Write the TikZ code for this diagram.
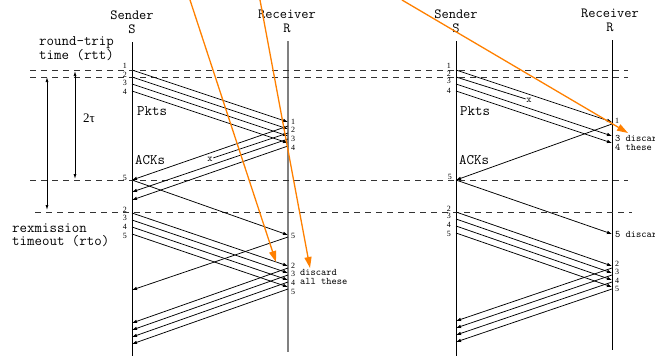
\documentclass[tikz,border=0pt]{standalone}
\usepackage{fontspec}
\setmainfont{Liberation Serif}
\usetikzlibrary{arrows.meta}
\definecolor{hintorange}{RGB}{255,128,0}
\begin{document}
\begin{tikzpicture}[x=1pt,y=-1pt,
  lifeline/.style={line width=0.9pt},
  recvline/.style={line width=1.7pt, black!50},
  msg/.style={line width=0.75pt, -{Latex[length=5pt,width=3.6pt]}},
  lost/.style={line width=0.75pt},
  guide/.style={line width=0.9pt, black!80, dash pattern=on 6pt off 5pt},
  span/.style={line width=0.75pt, {Latex[length=5pt,width=3pt]}-{Latex[length=5pt,width=3pt]}},
  hint/.style={hintorange, line width=1.3pt, -{Triangle[length=11pt,width=7pt]}},
  head/.style={font=\ttfamily\fontsize{14}{14}\selectfont, inner sep=0},
  side/.style={font=\ttfamily\fontsize{14.5}{14.5}\selectfont, inner sep=0, anchor=west},
  num/.style={font=\fontsize{8}{8}\selectfont, inner sep=0},
  lnum/.style={num, anchor=east},
  rnum/.style={num, anchor=west},
  note/.style={font=\ttfamily\fontsize{10}{10}\selectfont, inner sep=0, anchor=west},
  drop/.style={font=\ttfamily\fontsize{10}{10}\selectfont, inner sep=0.5pt},
]
\useasboundingbox (0,0) rectangle (655,356);

% ---------- headers ----------
\node[head] (lsname) at (132,15.5) {Sender};
\node[head] (lsid)   at (132,29.5) {S};
\node[head] (lrname) at (287,14.5) {Receiver};
\node[head] (lrid)   at (287,28.5) {R};
\node[head] (rsname) at (456,14.5) {Sender};
\node[head] (rsid)   at (456,28.5) {S};
\node[head] (rrname) at (610,13.5) {Receiver};
\node[head] (rrid)   at (610,27.5) {R};

% ---------- lifelines ----------
\coordinate (LStop) at (132,42);  \coordinate (LSbot) at (132,356);
\coordinate (LRtop) at (288,41);  \coordinate (LRbot) at (288,352);
\coordinate (RStop) at (456,41);  \coordinate (RSbot) at (456,356);
\coordinate (RRtop) at (612,40);  \coordinate (RRbot) at (612,350);
\draw[lifeline] (LStop) -- (LSbot);
\draw[recvline] (LRtop) -- (LRbot);
\draw[lifeline] (RStop) -- (RSbot);
\draw[lifeline] (RRtop) -- (RRbot);

% ---------- timing guides ----------
\coordinate (g1a) at (30,70);  \coordinate (g1b) at (628,70);
\coordinate (g2a) at (30,77);  \coordinate (g2b) at (628,77);
\coordinate (g3a) at (30,180); \coordinate (g3b) at (628,180);
\coordinate (g4a) at (35,212); \coordinate (g4b) at (632,212);
\draw[guide] (g1a) -- (g1b);
\draw[guide] (g2a) -- (g2b);
\draw[guide] (g3a) -- (g3b);
\draw[guide] (g4a) -- (g4b);

% rtt and rto spans
\coordinate (rttA) at (75,71);  \coordinate (rttB) at (75,179);
\coordinate (rtoA) at (47,77);  \coordinate (rtoB) at (47,210);
\draw[span] (rttA) -- (rttB);
\draw[span] (rtoA) -- (rtoB);
\node[font=\fontsize{13}{13}\selectfont, inner sep=0] (tau) at (89,118) {2τ};

\node[side] (rtt1) at (39,43) {round-trip};
\node[side] (rtt2) at (39,55) {time (rtt)};
\node[side] (rto1) at (12,228) {rexmission};
\node[side] (rto2) at (12,241) {timeout (rto)};

\node[side] (lpk) at (137,111) {Pkts};
\node[side] (lak) at (135,160) {ACKs};
\node[side] (rpk) at (460,111) {Pkts};
\node[side] (rak) at (459,160) {ACKs};

% ================= left exchange =================
\foreach \i/\d/\a in {1/70/122, 2/77/129, 3/84/136, 4/91/143} {
  \coordinate (lp\i s) at (132,\d);
  \coordinate (lp\i r) at (288,\a);
  \draw[msg] (lp\i s) -- (lp\i r);
}
% acknowledgements, the second one is lost
\coordinate (la1r) at (288,126); \coordinate (la1s) at (132,180);
\coordinate (la2r) at (288,133); \node[drop] (lx) at (210,159) {x};
\coordinate (la3r) at (288,139); \coordinate (la3s) at (132,192);
\coordinate (la4r) at (288,146); \coordinate (la4s) at (132,200);
\draw[msg] (la1r) -- (la1s);
\draw[lost] (la2r) -- (lx);
\draw[msg] (la3r) -- (la3s);
\draw[msg] (la4r) -- (la4s);
% packet 5
\coordinate (lp5s) at (132,180); \coordinate (lp5r) at (288,235);
\draw[msg] (lp5s) -- (lp5r);
% retransmissions 2..5
\foreach \i/\d/\a in {2/213/266, 3/220/273, 4/227/280, 5/234/287} {
  \coordinate (lq\i s) at (132,\d);
  \coordinate (lq\i r) at (288,\a);
  \draw[msg] (lq\i s) -- (lq\i r);
}
\coordinate (lb5r) at (288,237); \coordinate (lb5s) at (132,290);
\draw[msg] (lb5r) -- (lb5s);
\foreach \i/\d/\a in {2/268/323, 3/275/330, 4/282/337, 5/289/344} {
  \coordinate (lc\i r) at (288,\d);
  \coordinate (lc\i s) at (132,\a);
  \draw[msg] (lc\i r) -- (lc\i s);
}
% sequence numbers
\node[lnum] (ln1) at (127,66) {1};
\node[lnum] (ln2) at (127,75) {2};
\node[lnum] (ln3) at (127,83) {3};
\node[lnum] (ln4) at (127,92) {4};
\node[lnum] (ln5) at (127,178) {5};
\node[lnum] (lm2) at (127,210) {2};
\node[lnum] (lm3) at (127,218) {3};
\node[lnum] (lm4) at (127,227) {4};
\node[lnum] (lm5) at (127,236) {5};
\node[rnum] (lr1) at (291,122) {1};
\node[rnum] (lr2) at (291,130) {2};
\node[rnum] (lr3) at (291,139) {3};
\node[rnum] (lr4) at (291,148) {4};
\node[rnum] (lr5) at (291,236) {5};
\node[rnum] (lt2) at (291,266) {2};
\node[rnum] (lt3) at (291,274) {3};
\node[rnum] (lt4) at (291,283) {4};
\node[rnum] (lt5) at (291,292) {5};
\node[note] (ld1) at (300,272) {discard};
\node[note] (ld2) at (300,281) {all these};

% ================= right exchange =================
\coordinate (rp1s) at (456,70); \coordinate (rp1r) at (612,122);
\coordinate (rp2s) at (456,77); \node[drop] (rx) at (529,100) {x};
\coordinate (rp3s) at (456,84); \coordinate (rp3r) at (612,136);
\coordinate (rp4s) at (456,91); \coordinate (rp4r) at (612,143);
\draw[msg] (rp1s) -- (rp1r);
\draw[lost] (rp2s) -- (rx);
\draw[msg] (rp3s) -- (rp3r);
\draw[msg] (rp4s) -- (rp4r);
\coordinate (ra1r) at (612,124); \coordinate (ra1s) at (456,180);
\draw[msg] (ra1r) -- (ra1s);
\coordinate (rp5s) at (456,180); \coordinate (rp5r) at (612,234);
\draw[msg] (rp5s) -- (rp5r);
\foreach \i/\d/\a in {2/212/266, 3/219/273, 4/226/280, 5/233/287} {
  \coordinate (rq\i s) at (456,\d);
  \coordinate (rq\i r) at (612,\a);
  \draw[msg] (rq\i s) -- (rq\i r);
}
\foreach \i/\d/\a in {2/268/321, 3/275/328, 4/282/335, 5/289/342} {
  \coordinate (rc\i r) at (612,\d);
  \coordinate (rc\i s) at (456,\a);
  \draw[msg] (rc\i r) -- (rc\i s);
}
\node[lnum] (rn1) at (451,66) {1};
\node[lnum] (rn2) at (451,74) {2};
\node[lnum] (rn3) at (451,81) {3};
\node[lnum] (rn4) at (451,91) {4};
\node[lnum] (rn5) at (452,177) {5};
\node[lnum] (rm2) at (451,209) {2};
\node[lnum] (rm3) at (451,216) {3};
\node[lnum] (rm4) at (451,225) {4};
\node[lnum] (rm5) at (451,234) {5};
\node[rnum] (rr1) at (615,121) {1};
\node[note] (rd3) at (615,138) {3 discard};
\node[note] (rd4) at (615,147) {4 these};
\node[note] (rd5) at (615,234) {5 discard};
\node[rnum] (rt2) at (615,264) {2};
\node[rnum] (rt3) at (615,272) {3};
\node[rnum] (rt4) at (615,281) {4};
\node[rnum] (rt5) at (615,289) {5};

% ---------- orange pointers ----------
\coordinate (o1a) at (190,0);  \coordinate (o1b) at (276,262);
\coordinate (o2a) at (260,0);  \coordinate (o2b) at (310,268);
\coordinate (o3a) at (402,0);  \coordinate (o3b) at (628,133);
\draw[hint] (o1a) -- (o1b);
\draw[hint] (o2a) -- (o2b);
\draw[hint] (o3a) -- (o3b);
\end{tikzpicture}
\end{document}
